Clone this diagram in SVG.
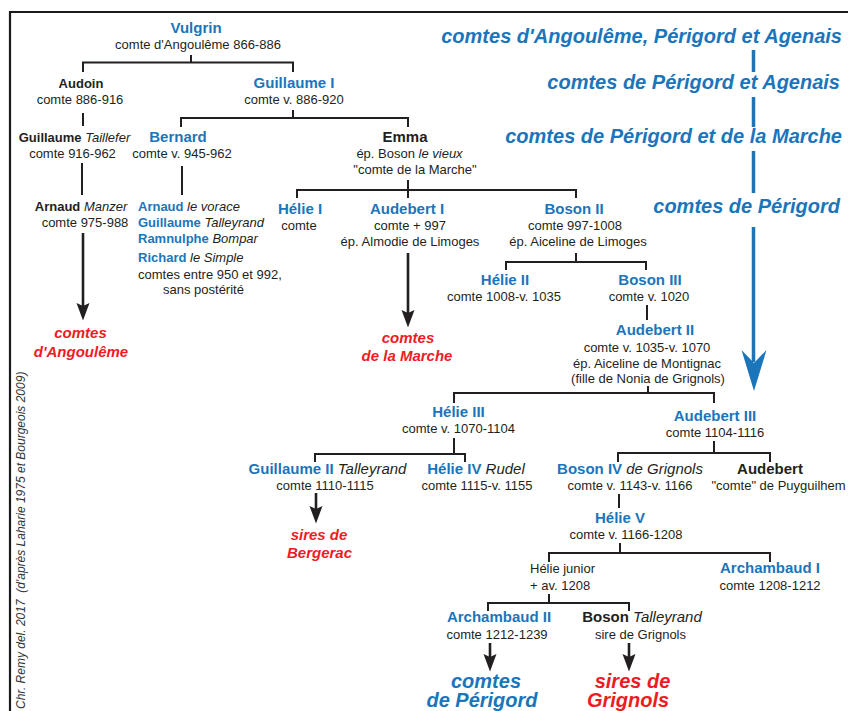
<svg xmlns="http://www.w3.org/2000/svg" width="848" height="711" viewBox="0 0 848 711">
<defs>
<style>
text{font-family:"Liberation Sans",Arial,sans-serif;fill:#231f20}
.n{font-size:15px;font-weight:bold;fill:#1b75bb}
.k{font-size:15px;font-weight:bold}
.kb{font-size:13px;font-weight:bold}
.nb{font-size:13px;font-weight:bold;fill:#1b75bb}
.s{font-size:13px}
.i{font-style:italic;font-weight:normal;fill:#231f20}
.m{text-anchor:middle}
.r{font-size:15px;font-weight:bold;font-style:italic;fill:#ed1c24}
.rb{font-size:20px;font-weight:bold;font-style:italic;fill:#ed1c24}
.bb{font-size:20px;font-weight:bold;font-style:italic;fill:#1b75bb}
.h{font-size:20px;font-weight:bold;font-style:italic;fill:#1b75bb;text-anchor:end}
.ln{stroke:#231f20;stroke-width:2;fill:none}
.ar{stroke:#231f20;stroke-width:2.6;fill:none}
.bl{stroke:#1b75bb;stroke-width:3.5;fill:none}
</style>
<marker id="ah" markerUnits="userSpaceOnUse" markerWidth="18" markerHeight="14" viewBox="0 -7 18 14" refX="3" refY="0" orient="auto">
<path d="M0,-6.5 L17.5,0 L0,6.5 L3,0 Z" fill="#231f20"/>
</marker>
</defs>

<path d="M10,711 V12 H848" stroke="#1a1a1a" stroke-width="2.2" fill="none"/>

<text transform="translate(24.5,709) rotate(-90)" xml:space="preserve" style="font-size:12px;font-style:italic;fill:#333">Chr. Remy del. 2017  (d'après Laharie 1975 et Bourgeois 2009)</text>

<g id="headers">
<text class="h" x="842" y="43">comtes d'Angoulême, Périgord et Agenais</text>
<text class="h" x="840" y="89">comtes de Périgord et Agenais</text>
<text class="h" x="842" y="143">comtes de Périgord et de la Marche</text>
<text class="h" x="840" y="213">comtes de Périgord</text>
<path class="bl" d="M753.5,50 V72 M753.5,97 V127 M753.5,151 V193 M753.5,227 V362"/>
<path d="M741.5,350 L754,391 L766.5,350 L754,363 Z" fill="#1b75bb"/>
</g>

<g id="connectors">
<path class="ln" d="M191,55 V62.5 M83,72 V62.5 H293 V72"/>
<path class="ln" d="M83,113 V126"/>
<path class="ln" d="M293,110 V118 M181,127 V118 H408 V127"/>
<path class="ln" d="M82,163 V195"/>
<path class="ln" d="M182,166 V195"/>
<path class="ar" d="M83,233 V306" marker-end="url(#ah)"/>
<path class="ln" d="M408,180 V198 M297,198 V190 H576 V198"/>
<path class="ar" d="M408,253 V313" marker-end="url(#ah)"/>
<path class="ln" d="M576,253 V262 M506,270 V262 H646 V270"/>
<path class="ln" d="M647,305 V320"/>
<path class="ln" d="M648,386 V393 M454,403 V393 H714 V403"/>
<path class="ln" d="M454,438 V454 M315,462 V454 H465 V462"/>
<path class="ar" d="M316,493 V509" marker-end="url(#ah)"/>
<path class="ln" d="M714,441 V453 M618,462 V453 H770 V462"/>
<path class="ln" d="M619,494 V508"/>
<path class="ln" d="M620,543 V553 M549,562 V553 H770 V562"/>
<path class="ln" d="M549,594 V603 M488,611 V603 H629 V611"/>
<path class="ar" d="M490,643 V657" marker-end="url(#ah)"/>
<path class="ar" d="M629,643 V657" marker-end="url(#ah)"/>
</g>

<g id="vulgrin"><text class="n m" x="196" y="33">Vulgrin</text><text class="s m" x="198" y="48.5">comte d'Angoulême 866-886</text></g>
<g id="audoin"><text class="kb m" x="81" y="88">Audoin</text><text class="s m" x="80" y="104">comte 886-916</text></g>
<g id="guillaume1"><text class="n m" x="294" y="88">Guillaume I</text><text class="s m" x="294" y="104">comte v. 886-920</text></g>
<g id="guillaume-taillefer"><text class="kb m" x="74.5" y="142">Guillaume<tspan class="i"> Taillefer</tspan></text><text class="s m" x="72.5" y="157.5">comte 916-962</text></g>
<g id="bernard"><text class="n m" x="178" y="142">Bernard</text><text class="s m" x="182" y="157.5">comte v. 945-962</text></g>
<g id="emma"><text class="k m" x="405" y="142">Emma</text><text class="s m" x="409.5" y="157.5">ép. Boson <tspan class="i">le vieux</tspan></text><text class="s m" x="415" y="174">"comte de la Marche"</text></g>
<g id="arnaud-manzer"><text class="kb m" x="81" y="211">Arnaud<tspan class="i"> Manzer</tspan></text><text class="s m" x="85" y="227">comte 975-988</text></g>
<g id="bernard-sons">
<text class="nb" x="138" y="211">Arnaud<tspan class="i"> le vorace</tspan></text>
<text class="nb" x="138" y="227">Guillaume<tspan class="i"> Talleyrand</tspan></text>
<text class="nb" x="138" y="243">Ramnulphe<tspan class="i"> Bompar</tspan></text>
<text class="nb" x="138" y="262">Richard<tspan class="i"> le Simple</tspan></text>
<text class="s" x="138" y="279">comtes entre 950 et 992,</text>
<text class="s" x="163" y="294">sans postérité</text>
</g>
<g id="angouleme"><text class="r m" x="80.5" y="338">comtes</text><text class="r m" x="81" y="357">d'Angoulême</text></g>
<g id="helie1"><text class="n m" x="300" y="214">Hélie I</text><text class="s m" x="299" y="230">comte</text></g>
<g id="audebert1"><text class="n m" x="407" y="214">Audebert I</text><text class="s m" x="410" y="230">comte + 997</text><text class="s m" x="410" y="246">ép. Almodie de Limoges</text></g>
<g id="boson2"><text class="n m" x="574" y="214">Boson II</text><text class="s m" x="575" y="230">comte 997-1008</text><text class="s m" x="578" y="246">ép. Aiceline de Limoges</text></g>
<g id="marche"><text class="r m" x="408" y="343">comtes</text><text class="r m" x="407" y="361">de la Marche</text></g>
<g id="helie2"><text class="n m" x="505" y="285">Hélie II</text><text class="s m" x="504" y="301">comte 1008-v. 1035</text></g>
<g id="boson3"><text class="n m" x="650" y="285">Boson III</text><text class="s m" x="649" y="301">comte v. 1020</text></g>
<g id="audebert2"><text class="n m" x="655" y="335">Audebert II</text><text class="s m" x="647" y="351.5">comte v. 1035-v. 1070</text><text class="s m" x="647" y="367.5">ép. Aiceline de Montignac</text><text class="s m" x="648" y="383">(fille de Nonia de Grignols)</text></g>
<g id="helie3"><text class="n m" x="458.5" y="417">Hélie III</text><text class="s m" x="458.5" y="433">comte v. 1070-1104</text></g>
<g id="audebert3"><text class="n m" x="715" y="421">Audebert III</text><text class="s m" x="715" y="437">comte 1104-1116</text></g>
<g id="guillaume2"><text class="n m" x="327.5" y="474">Guillaume II<tspan class="i"> Talleyrand</tspan></text><text class="s m" x="325" y="490">comte 1110-1115</text></g>
<g id="bergerac"><text class="r m" x="319" y="540">sires de</text><text class="r m" x="319.5" y="558">Bergerac</text></g>
<g id="helie4"><text class="n m" x="476" y="474">Hélie IV<tspan class="i"> Rudel</tspan></text><text class="s m" x="477" y="490">comte 1115-v. 1155</text></g>
<g id="boson4"><text class="n m" x="630" y="474">Boson IV<tspan class="i"> de Grignols</tspan></text><text class="s m" x="630" y="490">comte v. 1143-v. 1166</text></g>
<g id="audebert"><text class="k m" x="770" y="474">Audebert</text><text class="s m" x="778.5" y="490">"comte" de Puyguilhem</text></g>
<g id="helie5"><text class="n m" x="620" y="523">Hélie V</text><text class="s m" x="626" y="539">comte v. 1166-1208</text></g>
<g id="helie-junior"><text class="s" x="530" y="573">Hélie junior</text><text class="s" x="530" y="590">+ av. 1208</text></g>
<g id="archambaud1"><text class="n m" x="770" y="573">Archambaud I</text><text class="s m" x="770" y="590">comte 1208-1212</text></g>
<g id="archambaud2"><text class="n m" x="499" y="622">Archambaud II</text><text class="s m" x="497" y="639">comte 1212-1239</text></g>
<g id="boson-talleyrand"><text class="k m" x="642" y="622">Boson<tspan class="i"> Talleyrand</tspan></text><text class="s m" x="640.5" y="639">sire de Grignols</text></g>
<g id="perigord"><text class="bb m" x="486" y="688">comtes</text><text class="bb m" x="482" y="707">de Périgord</text></g>
<g id="grignols"><text class="rb m" x="632.5" y="688">sires de</text><text class="rb m" x="628" y="707">Grignols</text></g>
</svg>
